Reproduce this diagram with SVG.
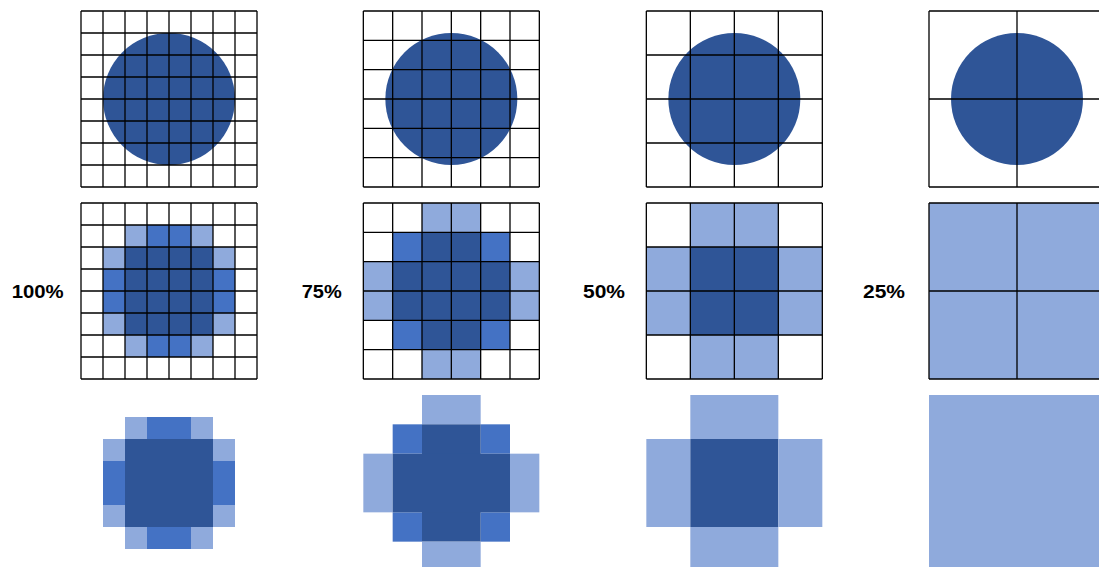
<svg xmlns="http://www.w3.org/2000/svg" width="1099" height="567" viewBox="0 0 1099 567">
<style>
.dk{fill:#2F5597}
.md{fill:#4472C4}
.lt{fill:#8FAADC}
.grid{fill:none;stroke:#000;stroke-width:1.3}
.lbl{font-family:"Liberation Sans",Arial,sans-serif;font-weight:bold;font-size:18px;fill:#000}
</style>
<rect width="1099" height="567" fill="#fff"/>
<g id="labels">
<text class="lbl" x="11.7" y="298" textLength="52" lengthAdjust="spacingAndGlyphs">100%</text>
<text class="lbl" x="301.7" y="298" textLength="40" lengthAdjust="spacingAndGlyphs">75%</text>
<text class="lbl" x="583" y="298" textLength="42" lengthAdjust="spacingAndGlyphs">50%</text>
<text class="lbl" x="863" y="298" textLength="42" lengthAdjust="spacingAndGlyphs">25%</text>
</g>
<!-- Column 1: 100% -->
<g id="c1-circle">
<circle class="dk" cx="169" cy="99" r="66"/>
<path class="grid" d="M81 11V187M103 11V187M125 11V187M147 11V187M169 11V187M191 11V187M213 11V187M235 11V187M257 11V187M81 11H257M81 33H257M81 55H257M81 77H257M81 99H257M81 121H257M81 143H257M81 165H257M81 187H257"/>
</g>
<g id="c1-grid">
<rect class="lt" x="125" y="225" width="22" height="22"/>
<rect class="md" x="147" y="225" width="44" height="22"/>
<rect class="lt" x="191" y="225" width="22" height="22"/>
<rect class="lt" x="103" y="247" width="22" height="22"/>
<rect class="lt" x="213" y="247" width="22" height="22"/>
<rect class="md" x="103" y="269" width="22" height="44"/>
<rect class="md" x="213" y="269" width="22" height="44"/>
<rect class="lt" x="103" y="313" width="22" height="22"/>
<rect class="lt" x="213" y="313" width="22" height="22"/>
<rect class="dk" x="125" y="247" width="88" height="88"/>
<rect class="lt" x="125" y="335" width="22" height="22"/>
<rect class="md" x="147" y="335" width="44" height="22"/>
<rect class="lt" x="191" y="335" width="22" height="22"/>
<path class="grid" d="M81 203V379M103 203V379M125 203V379M147 203V379M169 203V379M191 203V379M213 203V379M235 203V379M257 203V379M81 203H257M81 225H257M81 247H257M81 269H257M81 291H257M81 313H257M81 335H257M81 357H257M81 379H257"/>
</g>
<g id="c1-pixels">
<rect class="lt" x="125" y="417" width="22" height="22"/>
<rect class="md" x="147" y="417" width="44" height="22"/>
<rect class="lt" x="191" y="417" width="22" height="22"/>
<rect class="lt" x="103" y="439" width="22" height="22"/>
<rect class="lt" x="213" y="439" width="22" height="22"/>
<rect class="md" x="103" y="461" width="22" height="44"/>
<rect class="md" x="213" y="461" width="22" height="44"/>
<rect class="lt" x="103" y="505" width="22" height="22"/>
<rect class="lt" x="213" y="505" width="22" height="22"/>
<rect class="dk" x="125" y="439" width="88" height="88"/>
<rect class="lt" x="125" y="527" width="22" height="22"/>
<rect class="md" x="147" y="527" width="44" height="22"/>
<rect class="lt" x="191" y="527" width="22" height="22"/>
</g>
<!-- Column 2: 75% -->
<g id="c2-circle">
<circle class="dk" cx="451.33" cy="99" r="66"/>
<path class="grid" d="M363.33 11V187M392.67 11V187M422 11V187M451.33 11V187M480.67 11V187M510 11V187M539.33 11V187M363.33 11H539.33M363.33 40.33H539.33M363.33 69.67H539.33M363.33 99H539.33M363.33 128.33H539.33M363.33 157.67H539.33M363.33 187H539.33"/>
</g>
<g id="c2-grid">
<rect class="lt" x="422" y="203" width="58.67" height="29.33"/>
<rect class="md" x="392.67" y="232.33" width="29.33" height="29.33"/>
<rect class="md" x="480.67" y="232.33" width="29.33" height="29.33"/>
<rect class="lt" x="363.33" y="261.67" width="29.33" height="58.67"/>
<rect class="lt" x="510" y="261.67" width="29.33" height="58.67"/>
<rect class="md" x="392.67" y="320.33" width="29.33" height="29.33"/>
<rect class="md" x="480.67" y="320.33" width="29.33" height="29.33"/>
<rect class="dk" x="422" y="232.33" width="58.67" height="117.33"/>
<rect class="dk" x="392.67" y="261.67" width="117.33" height="58.67"/>
<rect class="lt" x="422" y="349.67" width="58.67" height="29.33"/>
<path class="grid" d="M363.33 203V379M392.67 203V379M422 203V379M451.33 203V379M480.67 203V379M510 203V379M539.33 203V379M363.33 203H539.33M363.33 232.33H539.33M363.33 261.67H539.33M363.33 291H539.33M363.33 320.33H539.33M363.33 349.67H539.33M363.33 379H539.33"/>
</g>
<g id="c2-pixels">
<rect class="lt" x="422" y="395" width="58.67" height="29.33"/>
<rect class="md" x="392.67" y="424.33" width="29.33" height="29.33"/>
<rect class="md" x="480.67" y="424.33" width="29.33" height="29.33"/>
<rect class="lt" x="363.33" y="453.67" width="29.33" height="58.67"/>
<rect class="lt" x="510" y="453.67" width="29.33" height="58.67"/>
<rect class="md" x="392.67" y="512.33" width="29.33" height="29.33"/>
<rect class="md" x="480.67" y="512.33" width="29.33" height="29.33"/>
<rect class="dk" x="422" y="424.33" width="58.67" height="117.33"/>
<rect class="dk" x="392.67" y="453.67" width="117.33" height="58.67"/>
<rect class="lt" x="422" y="541.67" width="58.67" height="29.33"/>
</g>
<!-- Column 3: 50% -->
<g id="c3-circle">
<circle class="dk" cx="734.33" cy="99" r="66"/>
<path class="grid" d="M646.33 11V187M690.33 11V187M734.33 11V187M778.33 11V187M822.33 11V187M646.33 11H822.33M646.33 55H822.33M646.33 99H822.33M646.33 143H822.33M646.33 187H822.33"/>
</g>
<g id="c3-grid">
<rect class="lt" x="690.33" y="203" width="88" height="44"/>
<rect class="lt" x="646.33" y="247" width="44" height="88"/>
<rect class="dk" x="690.33" y="247" width="88" height="88"/>
<rect class="lt" x="778.33" y="247" width="44" height="88"/>
<rect class="lt" x="690.33" y="335" width="88" height="44"/>
<path class="grid" d="M646.33 203V379M690.33 203V379M734.33 203V379M778.33 203V379M822.33 203V379M646.33 203H822.33M646.33 247H822.33M646.33 291H822.33M646.33 335H822.33M646.33 379H822.33"/>
</g>
<g id="c3-pixels">
<rect class="lt" x="690.33" y="395" width="88" height="44"/>
<rect class="lt" x="646.33" y="439" width="44" height="88"/>
<rect class="dk" x="690.33" y="439" width="88" height="88"/>
<rect class="lt" x="778.33" y="439" width="44" height="88"/>
<rect class="lt" x="690.33" y="527" width="88" height="44"/>
</g>
<!-- Column 4: 25% -->
<g id="c4-circle">
<circle class="dk" cx="1017" cy="99" r="66"/>
<path class="grid" d="M929 11V187M1017 11V187M1105 11V187M929 11H1105M929 99H1105M929 187H1105"/>
</g>
<g id="c4-grid">
<rect class="lt" x="929" y="203" width="176" height="176"/>
<path class="grid" d="M929 203V379M1017 203V379M1105 203V379M929 203H1105M929 291H1105M929 379H1105"/>
</g>
<g id="c4-pixels">
<rect class="lt" x="929" y="395" width="176" height="176"/>
</g>
</svg>
